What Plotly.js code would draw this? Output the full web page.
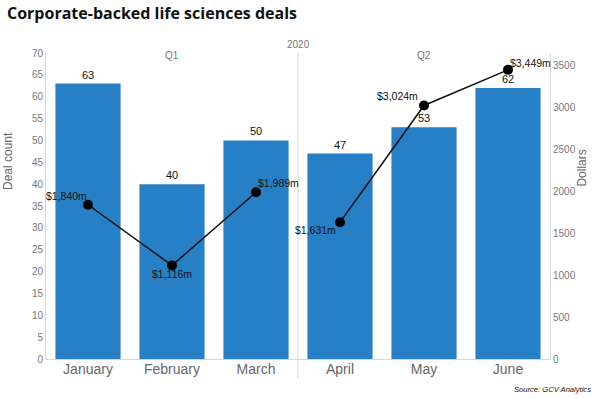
<!DOCTYPE html>
<html>
<head>
<meta charset="utf-8">
<script src="https://cdn.plot.ly/plotly-3.0.1.min.js"></script>
<style>html,body{margin:0;padding:0;background:#fff;}#chart{width:600px;height:399px;}</style>
</head>
<body>
<div id="chart"></div>
<script>
const months = ["January", "February", "March", "April", "May", "June"];
const dealCount = [63, 40, 50, 47, 53, 62];
const dollars = [1840, 1116, 1989, 1631, 3024, 3449];
const dollarLabels = ["$1,840m", "$1,116m", "$1,989m", "$1,631m", "$3,024m", "$3,449m"];
const quarters = ["Q1", "Q2"];
const quarterCenters = ["February", "May"];
const quarterMonths = [["January", "February", "March"], ["April", "May", "June"]];
const yearLabel = "2020";

// label placement styles (not data)
const labelStyle = [
  {xanchor: "right", xshift: 1, yshift: 9},
  {xanchor: "center", xshift: 0, yshift: -9},
  {xanchor: "left", xshift: 0, yshift: 9},
  {xanchor: "right", xshift: -2, yshift: -8},
  {xanchor: "right", xshift: -4, yshift: 9},
  {xanchor: "left", xshift: 0, yshift: 7}
];

const FONT = "Liberation Sans, Arial, sans-serif";

const traces = [{
  type: "bar",
  x: months,
  y: dealCount,
  text: dealCount.map(String),
  textposition: "outside",
  textfont: {family: FONT, size: 11, color: "#111"},
  marker: {color: "#2780c6"},
  cliponaxis: false,
  hoverinfo: "none",
  yaxis: "y"
}];

quarterMonths.forEach(group => {
  const xs = [], ys = [];
  months.forEach((m, i) => { if (group.includes(m)) { xs.push(m); ys.push(dollars[i]); } });
  traces.push({
    type: "scatter",
    mode: "lines+markers",
    x: xs,
    y: ys,
    line: {color: "#111", width: 1.5},
    marker: {color: "#000", size: 10},
    cliponaxis: false,
    hoverinfo: "none",
    yaxis: "y2"
  });
});

const tickFont = {family: FONT, size: 10, color: "#777"};
const annotations = [
  {text: "Deal count", xref: "paper", yref: "paper", x: (8 - 46) / 504, y: 0.647, textangle: -90,
   xanchor: "center", yanchor: "middle",
   showarrow: false, font: {family: FONT, size: 12, color: "#666"}},
  {text: "Dollars", xref: "paper", yref: "paper", x: (582.5 - 46) / 504, y: 0.624, textangle: -90,
   xanchor: "center", yanchor: "middle",
   showarrow: false, font: {family: FONT, size: 12, color: "#666"}},
  {text: yearLabel, xref: "x", yref: "paper", x: 2.5, y: 1.052, showarrow: false,
   font: {family: FONT, size: 10, color: "#777"}},
  {text: "<i>Source: GCV Analytics</i>", xref: "paper", yref: "paper", x: (593 - 46) / 504, y: (359 - 389) / 306,
   xanchor: "right", yanchor: "middle", showarrow: false,
   font: {family: "Liberation Sans Narrow, Liberation Sans, Arial, sans-serif", size: 7.6, color: "#111"}}
];
quarters.forEach((q, i) => {
  annotations.push({text: q, xref: "x", yref: "paper", x: quarterCenters[i], y: 1.016, showarrow: false,
    font: {family: FONT, size: 10, color: "#777"}});
});
months.forEach((m, i) => {
  const s = labelStyle[i];
  annotations.push({text: dollarLabels[i], xref: "x", yref: "y2", x: m, y: dollars[i],
    xanchor: s.xanchor, yanchor: "middle", xshift: s.xshift, yshift: s.yshift,
    showarrow: false, font: {family: FONT, size: 10.5, color: "#111"}});
});

const layout = {
  width: 600, height: 399,
  margin: {l: 46, r: 50, t: 53, b: 40, pad: 0},
  paper_bgcolor: "#fff", plot_bgcolor: "#fff",
  showlegend: false,
  bargap: 0.224,
  title: {text: "<b>Corporate-backed life sciences deals</b>", x: 7 / 600, xref: "container", xanchor: "left",
          y: 1 - 13 / 399, yref: "container", yanchor: "middle",
          font: {family: "Open Sans, sans-serif", size: 16, color: "#111"}},
  xaxis: {type: "category", range: [-0.5, 5.5], showgrid: false, zeroline: false,
          showline: true, linecolor: "#d6d6d6", linewidth: 1, ticks: "", ticklabelstandoff: -3,
          tickfont: {family: FONT, size: 14, color: "#666"}},
  yaxis: {range: [0, 70], dtick: 5, showgrid: false, zeroline: false,
          showline: true, linecolor: "#d6d6d6", linewidth: 1, ticks: "", tickfont: tickFont},
  yaxis2: {range: [0, 3650], dtick: 500, overlaying: "y", side: "right", showgrid: false, zeroline: false,
           showline: true, linecolor: "#d6d6d6", linewidth: 1, ticks: "", tickfont: tickFont},
  shapes: [{type: "line", xref: "x", yref: "paper", x0: 2.5, x1: 2.5, y0: -0.062, y1: 1.0,
            line: {color: "#d6d6d6", width: 1}}],
  annotations: annotations
};

Plotly.newPlot("chart", traces, layout, {displayModeBar: false, staticPlot: true});
</script>
</body>
</html>
